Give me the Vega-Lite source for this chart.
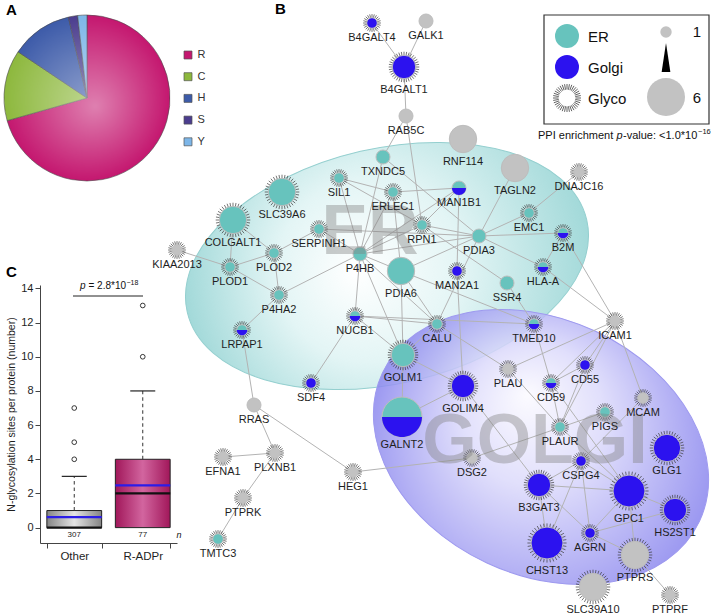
{
"$schema":"https://vega.github.io/schema/vega-lite/v6.json",
"width":715,"height":614,"autosize":{"type":"none"},"padding":0,"background":"#ffffff",
"config":{"view":{"stroke":null},"font":"Liberation Sans"},
"datasets":{
"nodes":[
{"id":"B4GALT4","x":372,"y":23,"t":"Golgi","g":1,"s":1},
{"id":"GALK1","x":426,"y":21,"t":"None","g":0,"s":2},
{"id":"B4GALT1","x":404,"y":67,"t":"Golgi","g":1,"s":3},
{"id":"RAB5C","x":406,"y":116,"t":"None","g":0,"s":2},
{"id":"TXNDC5","x":383,"y":157,"t":"ER","g":0,"s":2},
{"id":"RNF114","x":463,"y":139,"t":"None","g":0,"s":4},
{"id":"TAGLN2","x":515,"y":168,"t":"None","g":0,"s":4},
{"id":"DNAJC16","x":579,"y":172,"t":"None","g":1,"s":1},
{"id":"EMC1","x":529,"y":213,"t":"ER","g":1,"s":1},
{"id":"B2M","x":563,"y":233,"t":"Both","g":1,"s":1},
{"id":"HLA-A","x":543,"y":267,"t":"Both","g":1,"s":1},
{"id":"SSR4","x":507,"y":283,"t":"ER","g":0,"s":2},
{"id":"MAN2A1","x":457,"y":271,"t":"Golgi","g":1,"s":1},
{"id":"PDIA3","x":479,"y":236,"t":"ER","g":0,"s":2},
{"id":"MAN1B1","x":459,"y":188,"t":"Both","g":0,"s":2},
{"id":"RPN1","x":422,"y":225,"t":"ER","g":1,"s":1},
{"id":"ERLEC1","x":393,"y":192,"t":"ER","g":1,"s":1},
{"id":"SIL1","x":339,"y":178,"t":"ER","g":1,"s":1},
{"id":"SERPINH1","x":319,"y":229,"t":"ER","g":1,"s":1},
{"id":"P4HB","x":360,"y":254,"t":"ER","g":0,"s":2},
{"id":"PDIA6","x":401,"y":271,"t":"ER","g":0,"s":4},
{"id":"NUCB1","x":355,"y":316,"t":"Both","g":1,"s":1},
{"id":"CALU","x":437,"y":324,"t":"ER","g":1,"s":1},
{"id":"GOLM1","x":403,"y":355,"t":"ER","g":1,"s":3},
{"id":"COLGALT1","x":233,"y":220,"t":"ER","g":1,"s":4},
{"id":"SLC39A6","x":282,"y":192,"t":"ER","g":1,"s":4},
{"id":"PLOD2","x":274,"y":253,"t":"ER","g":1,"s":1},
{"id":"PLOD1","x":230,"y":267,"t":"ER","g":1,"s":1},
{"id":"KIAA2013","x":177,"y":250,"t":"None","g":1,"s":1},
{"id":"P4HA2","x":279,"y":295,"t":"ER","g":1,"s":1},
{"id":"LRPAP1","x":242,"y":330,"t":"Both","g":1,"s":1},
{"id":"SDF4","x":311,"y":383,"t":"Golgi","g":1,"s":1},
{"id":"RRAS","x":254,"y":405,"t":"None","g":0,"s":2},
{"id":"GALNT2","x":402,"y":417,"t":"Both","g":0,"s":6},
{"id":"EFNA1","x":223,"y":457,"t":"None","g":1,"s":1},
{"id":"PLXNB1","x":275,"y":453,"t":"None","g":1,"s":1},
{"id":"HEG1","x":353,"y":472,"t":"None","g":1,"s":1},
{"id":"PTPRK","x":243,"y":498,"t":"None","g":1,"s":1},
{"id":"TMTC3","x":218,"y":539,"t":"ER","g":1,"s":1},
{"id":"TMED10","x":534,"y":324,"t":"Both","g":1,"s":1},
{"id":"ICAM1","x":615,"y":321,"t":"None","g":1,"s":1},
{"id":"PLAU","x":508,"y":369,"t":"None","g":1,"s":1},
{"id":"CD59","x":551,"y":383,"t":"Both","g":1,"s":1},
{"id":"CD55","x":585,"y":365,"t":"Golgi","g":1,"s":1},
{"id":"GOLIM4","x":463,"y":386,"t":"Golgi","g":1,"s":3},
{"id":"MCAM","x":643,"y":398,"t":"None","g":1,"s":1},
{"id":"PIGS","x":605,"y":412,"t":"ER","g":1,"s":1},
{"id":"PLAUR","x":560,"y":427,"t":"ER","g":1,"s":1},
{"id":"GLG1","x":667,"y":448,"t":"Golgi","g":1,"s":4},
{"id":"DSG2","x":472,"y":458,"t":"None","g":1,"s":1},
{"id":"CSPG4","x":581,"y":461,"t":"Golgi","g":1,"s":1},
{"id":"B3GAT3","x":539,"y":485,"t":"Golgi","g":1,"s":3},
{"id":"GPC1","x":629,"y":491,"t":"Golgi","g":1,"s":5},
{"id":"HS2ST1","x":675,"y":510,"t":"Golgi","g":1,"s":3},
{"id":"AGRN","x":590,"y":533,"t":"Golgi","g":1,"s":1},
{"id":"CHST13","x":547,"y":543,"t":"Golgi","g":1,"s":5},
{"id":"PTPRS","x":635,"y":555,"t":"None","g":1,"s":4},
{"id":"SLC39A10","x":593,"y":587,"t":"None","g":1,"s":4},
{"id":"PTPRF","x":670,"y":595,"t":"None","g":1,"s":1}
],
"edges":[
{"a":"B4GALT4","b":"B4GALT1"},{"a":"GALK1","b":"B4GALT1"},{"a":"B4GALT1","b":"RAB5C"},{"a":"RAB5C","b":"TXNDC5"},{"a":"RAB5C","b":"RPN1"},
{"a":"TXNDC5","b":"P4HB"},{"a":"TXNDC5","b":"PDIA3"},{"a":"SIL1","b":"P4HB"},{"a":"SIL1","b":"ERLEC1"},{"a":"SIL1","b":"RPN1"},
{"a":"ERLEC1","b":"MAN1B1"},{"a":"ERLEC1","b":"P4HB"},{"a":"ERLEC1","b":"PDIA6"},{"a":"MAN1B1","b":"P4HB"},{"a":"MAN1B1","b":"RPN1"},
{"a":"MAN1B1","b":"MAN2A1"},{"a":"RPN1","b":"P4HB"},{"a":"RPN1","b":"PDIA3"},{"a":"RPN1","b":"SSR4"},{"a":"SERPINH1","b":"P4HB"},
{"a":"SERPINH1","b":"PDIA3"},{"a":"SERPINH1","b":"PLOD2"},{"a":"COLGALT1","b":"PLOD1"},{"a":"COLGALT1","b":"PLOD2"},{"a":"KIAA2013","b":"PLOD1"},
{"a":"PLOD1","b":"PLOD2"},{"a":"PLOD1","b":"P4HA2"},{"a":"PLOD2","b":"P4HA2"},{"a":"P4HA2","b":"P4HB"},{"a":"P4HA2","b":"LRPAP1"},
{"a":"LRPAP1","b":"RRAS"},{"a":"P4HB","b":"PDIA6"},{"a":"P4HB","b":"PDIA3"},{"a":"P4HB","b":"NUCB1"},{"a":"P4HB","b":"GOLM1"},
{"a":"P4HB","b":"CALU"},{"a":"PDIA6","b":"PDIA3"},{"a":"PDIA6","b":"GOLM1"},{"a":"PDIA6","b":"CALU"},{"a":"PDIA6","b":"TMED10"},
{"a":"PDIA3","b":"TAGLN2"},{"a":"PDIA3","b":"B2M"},{"a":"PDIA3","b":"HLA-A"},{"a":"PDIA3","b":"CALU"},{"a":"PDIA3","b":"EMC1"},
{"a":"EMC1","b":"DNAJC16"},{"a":"B2M","b":"HLA-A"},{"a":"B2M","b":"ICAM1"},{"a":"HLA-A","b":"ICAM1"},{"a":"SSR4","b":"TMED10"},
{"a":"MAN2A1","b":"GOLIM4"},{"a":"NUCB1","b":"SDF4"},{"a":"NUCB1","b":"CALU"},{"a":"NUCB1","b":"GOLM1"},{"a":"NUCB1","b":"TMED10"},
{"a":"CALU","b":"GOLM1"},{"a":"CALU","b":"PLAU"},{"a":"GOLM1","b":"GALNT2"},{"a":"GOLM1","b":"GOLIM4"},{"a":"GALNT2","b":"GOLIM4"},
{"a":"GOLIM4","b":"B3GAT3"},{"a":"TMED10","b":"CD59"},{"a":"ICAM1","b":"PLAU"},{"a":"ICAM1","b":"CD59"},{"a":"ICAM1","b":"CD55"},
{"a":"ICAM1","b":"PLAUR"},{"a":"ICAM1","b":"MCAM"},{"a":"PLAU","b":"PLAUR"},{"a":"CD59","b":"CD55"},{"a":"CD59","b":"PLAUR"},
{"a":"CD59","b":"GPC1"},{"a":"CD55","b":"PLAUR"},{"a":"PIGS","b":"DSG2"},{"a":"DSG2","b":"HEG1"},{"a":"HEG1","b":"RRAS"},
{"a":"RRAS","b":"PLXNB1"},{"a":"EFNA1","b":"PLXNB1"},{"a":"PLXNB1","b":"PTPRK"},{"a":"PTPRK","b":"TMTC3"},{"a":"MCAM","b":"CSPG4"},
{"a":"PLAUR","b":"GPC1"},{"a":"CSPG4","b":"B3GAT3"},{"a":"CSPG4","b":"GPC1"},{"a":"CSPG4","b":"AGRN"},{"a":"CSPG4","b":"CHST13"},
{"a":"B3GAT3","b":"GPC1"},{"a":"B3GAT3","b":"CHST13"},{"a":"B3GAT3","b":"AGRN"},{"a":"GPC1","b":"AGRN"},{"a":"GPC1","b":"HS2ST1"},
{"a":"GPC1","b":"PTPRS"},{"a":"HS2ST1","b":"AGRN"},{"a":"AGRN","b":"PTPRS"},{"a":"PTPRS","b":"PTPRF"}
],
"pie":[{"site":"R","pct":70.6,"k":1},{"site":"C","pct":13.8,"k":2},{"site":"H","pct":12.0,"k":3},{"site":"S","pct":1.8,"k":4},{"site":"Y","pct":1.8,"k":5}],
"box":[{"group":"Other","q1":0,"median":0,"q3":1,"mean":0.62,"upper":3,"n":"307"},{"group":"R-ADPr","q1":0,"median":2,"q3":4,"mean":2.47,"upper":8,"n":"77"}],
"outliers":[{"group":"Other","value":4},{"group":"Other","value":5},{"group":"Other","value":7},{"group":"R-ADPr","value":10},{"group":"R-ADPr","value":13}]
},
"layer":[
{
"resolve":{"scale":{"size":"independent","shape":"independent"}},
"layer":[
{"data":{"values":[{}]},"mark":{"type":"point","shape":"M-1,0A1,0.574,0,1,0,1,0A1,0.574,0,1,0,-1,0Z","size":168100,"angle":-13,"filled":true,"opacity":1,"fill":{"gradient":"radial","x1":0.42,"y1":0.5,"r1":0,"x2":0.5,"y2":0.5,"r2":0.5,"stops":[{"offset":0,"color":"#ffffff"},{"offset":0.45,"color":"#e3f5f5"},{"offset":1,"color":"#a2d9d9"}]},"stroke":"#94cfcf","strokeWidth":1},
 "encoding":{"x":{"datum":387,"type":"quantitative","scale":{"domain":[0,715],"nice":false,"zero":false},"axis":null},"y":{"datum":266,"type":"quantitative","scale":{"domain":[0,614],"reverse":true,"nice":false,"zero":false},"axis":null}}},
{"data":{"values":[{}]},"mark":{"type":"point","shape":"M-1,0A1,0.731,0,1,0,1,0A1,0.731,0,1,0,-1,0Z","size":122500,"angle":25,"filled":true,"opacity":1,"fillOpacity":0.85,"fill":{"gradient":"radial","x1":0.4,"y1":0.38,"r1":0,"x2":0.5,"y2":0.5,"r2":0.5,"stops":[{"offset":0,"color":"#fbfaff"},{"offset":0.4,"color":"#dcdafb"},{"offset":1,"color":"#8a86ee"}]},"stroke":"#9e9aef","strokeWidth":1},
 "encoding":{"x":{"datum":541,"type":"quantitative","scale":{"domain":[0,715],"nice":false,"zero":false},"axis":null},"y":{"datum":447,"type":"quantitative","scale":{"domain":[0,614],"reverse":true,"nice":false,"zero":false},"axis":null}}},
{"data":{"name":"edges"},
 "transform":[{"lookup":"a","from":{"data":{"name":"nodes"},"key":"id","fields":["x","y"]},"as":["ax","ay"]},{"lookup":"b","from":{"data":{"name":"nodes"},"key":"id","fields":["x","y"]},"as":["bx","by"]}],
 "mark":{"type":"rule","stroke":"#b3b3b3","strokeWidth":1},
 "encoding":{"x":{"field":"ax","type":"quantitative","scale":{"domain":[0,715],"nice":false,"zero":false},"axis":null},"y":{"field":"ay","type":"quantitative","scale":{"domain":[0,614],"reverse":true,"nice":false,"zero":false},"axis":null},"x2":{"field":"bx"},"y2":{"field":"by"}}},
{"data":{"name":"nodes"},"transform":[{"filter":"datum.g == 1"}],
 "mark":{"type":"point","filled":false,"opacity":1,"stroke":"#3a3a3a","strokeWidth":0.7},
 "encoding":{"x":{"field":"x","type":"quantitative","scale":{"domain":[0,715],"nice":false,"zero":false},"axis":null},"y":{"field":"y","type":"quantitative","scale":{"domain":[0,614],"reverse":true,"nice":false,"zero":false},"axis":null},
  "size":{"field":"s","type":"quantitative","scale":{"domain":[1,2,3,4,5,6],"range":[317,449,936,1197,1537,2228],"zero":false,"nice":false},"legend":null},
  "shape":{"field":"s","type":"nominal","scale":{"domain":[1,2,3,4,5,6],"range":[
"M0.6,0L1,0M0.58,0.155L0.966,0.259M0.52,0.3L0.866,0.5M0.424,0.424L0.707,0.707M0.3,0.52L0.5,0.866M0.155,0.58L0.259,0.966M0,0.6L0,1M-0.155,0.58L-0.259,0.966M-0.3,0.52L-0.5,0.866M-0.424,0.424L-0.707,0.707M-0.52,0.3L-0.866,0.5M-0.58,0.155L-0.966,0.259M-0.6,0L-1,0M-0.58,-0.155L-0.966,-0.259M-0.52,-0.3L-0.866,-0.5M-0.424,-0.424L-0.707,-0.707M-0.3,-0.52L-0.5,-0.866M-0.155,-0.58L-0.259,-0.966M0,-0.6L0,-1M0.155,-0.58L0.259,-0.966M0.3,-0.52L0.5,-0.866M0.424,-0.424L0.707,-0.707M0.52,-0.3L0.866,-0.5M0.58,-0.155L0.966,-0.259",
"M0.6,0L1,0M0.58,0.155L0.966,0.259M0.52,0.3L0.866,0.5M0.424,0.424L0.707,0.707M0.3,0.52L0.5,0.866M0.155,0.58L0.259,0.966M0,0.6L0,1M-0.155,0.58L-0.259,0.966M-0.3,0.52L-0.5,0.866M-0.424,0.424L-0.707,0.707M-0.52,0.3L-0.866,0.5M-0.58,0.155L-0.966,0.259M-0.6,0L-1,0M-0.58,-0.155L-0.966,-0.259M-0.52,-0.3L-0.866,-0.5M-0.424,-0.424L-0.707,-0.707M-0.3,-0.52L-0.5,-0.866M-0.155,-0.58L-0.259,-0.966M0,-0.6L0,-1M0.155,-0.58L0.259,-0.966M0.3,-0.52L0.5,-0.866M0.424,-0.424L0.707,-0.707M0.52,-0.3L0.866,-0.5M0.58,-0.155L0.966,-0.259",
"M0.6,0L1,0M0.591,0.104L0.985,0.174M0.564,0.205L0.94,0.342M0.52,0.3L0.866,0.5M0.46,0.386L0.766,0.643M0.386,0.46L0.643,0.766M0.3,0.52L0.5,0.866M0.205,0.564L0.342,0.94M0.104,0.591L0.174,0.985M0,0.6L0,1M-0.104,0.591L-0.174,0.985M-0.205,0.564L-0.342,0.94M-0.3,0.52L-0.5,0.866M-0.386,0.46L-0.643,0.766M-0.46,0.386L-0.766,0.643M-0.52,0.3L-0.866,0.5M-0.564,0.205L-0.94,0.342M-0.591,0.104L-0.985,0.174M-0.6,0L-1,0M-0.591,-0.104L-0.985,-0.174M-0.564,-0.205L-0.94,-0.342M-0.52,-0.3L-0.866,-0.5M-0.46,-0.386L-0.766,-0.643M-0.386,-0.46L-0.643,-0.766M-0.3,-0.52L-0.5,-0.866M-0.205,-0.564L-0.342,-0.94M-0.104,-0.591L-0.174,-0.985M0,-0.6L0,-1M0.104,-0.591L0.174,-0.985M0.205,-0.564L0.342,-0.94M0.3,-0.52L0.5,-0.866M0.386,-0.46L0.643,-0.766M0.46,-0.386L0.766,-0.643M0.52,-0.3L0.866,-0.5M0.564,-0.205L0.94,-0.342M0.591,-0.104L0.985,-0.174",
"M0.6,0L1,0M0.591,0.104L0.985,0.174M0.564,0.205L0.94,0.342M0.52,0.3L0.866,0.5M0.46,0.386L0.766,0.643M0.386,0.46L0.643,0.766M0.3,0.52L0.5,0.866M0.205,0.564L0.342,0.94M0.104,0.591L0.174,0.985M0,0.6L0,1M-0.104,0.591L-0.174,0.985M-0.205,0.564L-0.342,0.94M-0.3,0.52L-0.5,0.866M-0.386,0.46L-0.643,0.766M-0.46,0.386L-0.766,0.643M-0.52,0.3L-0.866,0.5M-0.564,0.205L-0.94,0.342M-0.591,0.104L-0.985,0.174M-0.6,0L-1,0M-0.591,-0.104L-0.985,-0.174M-0.564,-0.205L-0.94,-0.342M-0.52,-0.3L-0.866,-0.5M-0.46,-0.386L-0.766,-0.643M-0.386,-0.46L-0.643,-0.766M-0.3,-0.52L-0.5,-0.866M-0.205,-0.564L-0.342,-0.94M-0.104,-0.591L-0.174,-0.985M0,-0.6L0,-1M0.104,-0.591L0.174,-0.985M0.205,-0.564L0.342,-0.94M0.3,-0.52L0.5,-0.866M0.386,-0.46L0.643,-0.766M0.46,-0.386L0.766,-0.643M0.52,-0.3L0.866,-0.5M0.564,-0.205L0.94,-0.342M0.591,-0.104L0.985,-0.174",
"M0.6,0L1,0M0.591,0.104L0.985,0.174M0.564,0.205L0.94,0.342M0.52,0.3L0.866,0.5M0.46,0.386L0.766,0.643M0.386,0.46L0.643,0.766M0.3,0.52L0.5,0.866M0.205,0.564L0.342,0.94M0.104,0.591L0.174,0.985M0,0.6L0,1M-0.104,0.591L-0.174,0.985M-0.205,0.564L-0.342,0.94M-0.3,0.52L-0.5,0.866M-0.386,0.46L-0.643,0.766M-0.46,0.386L-0.766,0.643M-0.52,0.3L-0.866,0.5M-0.564,0.205L-0.94,0.342M-0.591,0.104L-0.985,0.174M-0.6,0L-1,0M-0.591,-0.104L-0.985,-0.174M-0.564,-0.205L-0.94,-0.342M-0.52,-0.3L-0.866,-0.5M-0.46,-0.386L-0.766,-0.643M-0.386,-0.46L-0.643,-0.766M-0.3,-0.52L-0.5,-0.866M-0.205,-0.564L-0.342,-0.94M-0.104,-0.591L-0.174,-0.985M0,-0.6L0,-1M0.104,-0.591L0.174,-0.985M0.205,-0.564L0.342,-0.94M0.3,-0.52L0.5,-0.866M0.386,-0.46L0.643,-0.766M0.46,-0.386L0.766,-0.643M0.52,-0.3L0.866,-0.5M0.564,-0.205L0.94,-0.342M0.591,-0.104L0.985,-0.174",
"M0.6,0L1,0M0.591,0.104L0.985,0.174M0.564,0.205L0.94,0.342M0.52,0.3L0.866,0.5M0.46,0.386L0.766,0.643M0.386,0.46L0.643,0.766M0.3,0.52L0.5,0.866M0.205,0.564L0.342,0.94M0.104,0.591L0.174,0.985M0,0.6L0,1M-0.104,0.591L-0.174,0.985M-0.205,0.564L-0.342,0.94M-0.3,0.52L-0.5,0.866M-0.386,0.46L-0.643,0.766M-0.46,0.386L-0.766,0.643M-0.52,0.3L-0.866,0.5M-0.564,0.205L-0.94,0.342M-0.591,0.104L-0.985,0.174M-0.6,0L-1,0M-0.591,-0.104L-0.985,-0.174M-0.564,-0.205L-0.94,-0.342M-0.52,-0.3L-0.866,-0.5M-0.46,-0.386L-0.766,-0.643M-0.386,-0.46L-0.643,-0.766M-0.3,-0.52L-0.5,-0.866M-0.205,-0.564L-0.342,-0.94M-0.104,-0.591L-0.174,-0.985M0,-0.6L0,-1M0.104,-0.591L0.174,-0.985M0.205,-0.564L0.342,-0.94M0.3,-0.52L0.5,-0.866M0.386,-0.46L0.643,-0.766M0.46,-0.386L0.766,-0.643M0.52,-0.3L0.866,-0.5M0.564,-0.205L0.94,-0.342M0.591,-0.104L0.985,-0.174"
]},"legend":null}}},
{"data":{"name":"nodes"},
 "mark":{"type":"point","shape":"circle","filled":true,"opacity":1,"stroke":"#bdbdbd","strokeWidth":1},
 "encoding":{"x":{"field":"x","type":"quantitative","scale":{"domain":[0,715],"nice":false,"zero":false},"axis":null},"y":{"field":"y","type":"quantitative","scale":{"domain":[0,614],"reverse":true,"nice":false,"zero":false},"axis":null},
  "size":{"field":"s","type":"quantitative","scale":{"domain":[1,2,3,4,5,6],"range":[112,196,548,751,1024,1600],"zero":false,"nice":false},"legend":null},
  "fill":{"field":"t","type":"nominal","scale":{"domain":["ER","Golgi","Both","None"],"range":["#67c3bd","#2c12ef","#67c3bd","#c2c2c2"]},"legend":null}}},
{"data":{"name":"nodes"},"transform":[{"filter":"datum.t == 'Both'"}],
 "mark":{"type":"point","shape":"M-1,0A1,1,0,0,0,1,0Z","filled":true,"opacity":1,"fill":"#2c12ef","strokeWidth":0},
 "encoding":{"x":{"field":"x","type":"quantitative","scale":{"domain":[0,715],"nice":false,"zero":false},"axis":null},"y":{"field":"y","type":"quantitative","scale":{"domain":[0,614],"reverse":true,"nice":false,"zero":false},"axis":null},
  "size":{"field":"s","type":"quantitative","scale":{"domain":[1,2,3,4,5,6],"range":[112,196,548,751,1024,1600],"zero":false,"nice":false},"legend":null}}},
{"data":{"values":[{}]},"mark":{"type":"text","text":"ER","fontSize":70,"fontWeight":"bold","fill":"#808080","opacity":0.4,"align":"center","baseline":"middle"},
 "encoding":{"x":{"datum":370,"type":"quantitative","scale":{"domain":[0,715],"nice":false,"zero":false},"axis":null},"y":{"datum":233,"type":"quantitative","scale":{"domain":[0,614],"reverse":true,"nice":false,"zero":false},"axis":null}}},
{"data":{"values":[{}]},"mark":{"type":"text","text":"GOLGI","fontSize":70,"fontWeight":"bold","fill":"#808080","opacity":0.4,"align":"center","baseline":"middle"},
 "encoding":{"x":{"datum":535,"type":"quantitative","scale":{"domain":[0,715],"nice":false,"zero":false},"axis":null},"y":{"datum":442,"type":"quantitative","scale":{"domain":[0,614],"reverse":true,"nice":false,"zero":false},"axis":null}}},
{"data":{"name":"nodes"},"transform":[{"filter":"datum.s <= 2"}],"mark":{"type":"text","fontSize":11,"fill":"#1e1e1e","align":"center","baseline":"middle","dy":14.8},
 "encoding":{"x":{"field":"x","type":"quantitative","scale":{"domain":[0,715],"nice":false,"zero":false},"axis":null},"y":{"field":"y","type":"quantitative","scale":{"domain":[0,614],"reverse":true,"nice":false,"zero":false},"axis":null},"text":{"field":"id"}}},
{"data":{"name":"nodes"},"transform":[{"filter":"datum.s == 3 || datum.s == 4"}],"mark":{"type":"text","fontSize":11,"fill":"#1e1e1e","align":"center","baseline":"middle","dy":22.5},
 "encoding":{"x":{"field":"x","type":"quantitative","scale":{"domain":[0,715],"nice":false,"zero":false},"axis":null},"y":{"field":"y","type":"quantitative","scale":{"domain":[0,614],"reverse":true,"nice":false,"zero":false},"axis":null},"text":{"field":"id"}}},
{"data":{"name":"nodes"},"transform":[{"filter":"datum.s >= 5"}],"mark":{"type":"text","fontSize":11,"fill":"#1e1e1e","align":"center","baseline":"middle","dy":28},
 "encoding":{"x":{"field":"x","type":"quantitative","scale":{"domain":[0,715],"nice":false,"zero":false},"axis":null},"y":{"field":"y","type":"quantitative","scale":{"domain":[0,614],"reverse":true,"nice":false,"zero":false},"axis":null},"text":{"field":"id"}}},
{"data":{"values":[{}]},"mark":{"type":"rect","fill":null,"stroke":"#333333","strokeWidth":1.2},
 "encoding":{"x":{"datum":544,"type":"quantitative","scale":{"domain":[0,715],"nice":false,"zero":false},"axis":null},"x2":{"datum":709},"y":{"datum":15,"type":"quantitative","scale":{"domain":[0,614],"reverse":true,"nice":false,"zero":false},"axis":null},"y2":{"datum":124}}},
{"data":{"values":[{}]},"mark":{"type":"point","shape":"circle","filled":true,"opacity":1,"fill":"#67c3bd","size":576,"strokeWidth":0},
 "encoding":{"x":{"datum":567,"type":"quantitative","scale":{"domain":[0,715],"nice":false,"zero":false},"axis":null},"y":{"datum":36,"type":"quantitative","scale":{"domain":[0,614],"reverse":true,"nice":false,"zero":false},"axis":null}}},
{"data":{"values":[{}]},"mark":{"type":"point","shape":"circle","filled":true,"opacity":1,"fill":"#2c12ef","size":576,"strokeWidth":0},
 "encoding":{"x":{"datum":567,"type":"quantitative","scale":{"domain":[0,715],"nice":false,"zero":false},"axis":null},"y":{"datum":67,"type":"quantitative","scale":{"domain":[0,614],"reverse":true,"nice":false,"zero":false},"axis":null}}},
{"data":{"values":[{}]},"mark":{"type":"point","shape":"M0.6,0L1,0M0.591,0.104L0.985,0.174M0.564,0.205L0.94,0.342M0.52,0.3L0.866,0.5M0.46,0.386L0.766,0.643M0.386,0.46L0.643,0.766M0.3,0.52L0.5,0.866M0.205,0.564L0.342,0.94M0.104,0.591L0.174,0.985M0,0.6L0,1M-0.104,0.591L-0.174,0.985M-0.205,0.564L-0.342,0.94M-0.3,0.52L-0.5,0.866M-0.386,0.46L-0.643,0.766M-0.46,0.386L-0.766,0.643M-0.52,0.3L-0.866,0.5M-0.564,0.205L-0.94,0.342M-0.591,0.104L-0.985,0.174M-0.6,0L-1,0M-0.591,-0.104L-0.985,-0.174M-0.564,-0.205L-0.94,-0.342M-0.52,-0.3L-0.866,-0.5M-0.46,-0.386L-0.766,-0.643M-0.386,-0.46L-0.643,-0.766M-0.3,-0.52L-0.5,-0.866M-0.205,-0.564L-0.342,-0.94M-0.104,-0.591L-0.174,-0.985M0,-0.6L0,-1M0.104,-0.591L0.174,-0.985M0.205,-0.564L0.342,-0.94M0.3,-0.52L0.5,-0.866M0.386,-0.46L0.643,-0.766M0.46,-0.386L0.766,-0.643M0.52,-0.3L0.866,-0.5M0.564,-0.205L0.94,-0.342M0.591,-0.104L0.985,-0.174","filled":false,"opacity":1,"stroke":"#3a3a3a","strokeWidth":0.8,"size":784},
 "encoding":{"x":{"datum":567,"type":"quantitative","scale":{"domain":[0,715],"nice":false,"zero":false},"axis":null},"y":{"datum":98,"type":"quantitative","scale":{"domain":[0,614],"reverse":true,"nice":false,"zero":false},"axis":null}}},
{"data":{"values":[{"label":"ER","yy":37},{"label":"Golgi","yy":68},{"label":"Glyco","yy":99}]},"mark":{"type":"text","fontSize":15,"fill":"#111111","align":"left","baseline":"middle"},
 "encoding":{"x":{"datum":588,"type":"quantitative","scale":{"domain":[0,715],"nice":false,"zero":false},"axis":null},"y":{"field":"yy","type":"quantitative","scale":{"domain":[0,614],"reverse":true,"nice":false,"zero":false},"axis":null},"text":{"field":"label"}}},
{"data":{"values":[{}]},"mark":{"type":"point","shape":"circle","filled":true,"opacity":1,"fill":"#c2c2c2","size":130,"strokeWidth":0},
 "encoding":{"x":{"datum":666,"type":"quantitative","scale":{"domain":[0,715],"nice":false,"zero":false},"axis":null},"y":{"datum":32,"type":"quantitative","scale":{"domain":[0,614],"reverse":true,"nice":false,"zero":false},"axis":null}}},
{"data":{"values":[{}]},"mark":{"type":"point","shape":"circle","filled":true,"opacity":1,"fill":"#c2c2c2","size":1444,"strokeWidth":0},
 "encoding":{"x":{"datum":666,"type":"quantitative","scale":{"domain":[0,715],"nice":false,"zero":false},"axis":null},"y":{"datum":97,"type":"quantitative","scale":{"domain":[0,614],"reverse":true,"nice":false,"zero":false},"axis":null}}},
{"data":{"values":[{}]},"mark":{"type":"point","shape":"M0,-1L0.3,1L-0.3,1Z","filled":true,"opacity":1,"fill":"#000000","size":841,"strokeWidth":0},
 "encoding":{"x":{"datum":666,"type":"quantitative","scale":{"domain":[0,715],"nice":false,"zero":false},"axis":null},"y":{"datum":57.5,"type":"quantitative","scale":{"domain":[0,614],"reverse":true,"nice":false,"zero":false},"axis":null}}},
{"data":{"values":[{"label":"1","yy":32},{"label":"6","yy":98}]},"mark":{"type":"text","fontSize":15,"fill":"#111111","align":"center","baseline":"middle"},
 "encoding":{"x":{"datum":697,"type":"quantitative","scale":{"domain":[0,715],"nice":false,"zero":false},"axis":null},"y":{"field":"yy","type":"quantitative","scale":{"domain":[0,614],"reverse":true,"nice":false,"zero":false},"axis":null},"text":{"field":"label"}}},
{"data":{"values":[{}]},"mark":{"type":"text","text":"PPI enrichment","fontSize":11,"fill":"#111111","align":"left","baseline":"middle"},
 "encoding":{"x":{"datum":538,"type":"quantitative","scale":{"domain":[0,715],"nice":false,"zero":false},"axis":null},"y":{"datum":136,"type":"quantitative","scale":{"domain":[0,614],"reverse":true,"nice":false,"zero":false},"axis":null}}},
{"data":{"values":[{}]},"mark":{"type":"text","text":"p","fontSize":11,"fontStyle":"italic","fill":"#111111","align":"left","baseline":"middle"},
 "encoding":{"x":{"datum":616.5,"type":"quantitative","scale":{"domain":[0,715],"nice":false,"zero":false},"axis":null},"y":{"datum":136,"type":"quantitative","scale":{"domain":[0,614],"reverse":true,"nice":false,"zero":false},"axis":null}}},
{"data":{"values":[{}]},"mark":{"type":"text","text":"-value: <1.0*10","fontSize":11,"fill":"#111111","align":"left","baseline":"middle"},
 "encoding":{"x":{"datum":623,"type":"quantitative","scale":{"domain":[0,715],"nice":false,"zero":false},"axis":null},"y":{"datum":136,"type":"quantitative","scale":{"domain":[0,614],"reverse":true,"nice":false,"zero":false},"axis":null}}},
{"data":{"values":[{}]},"mark":{"type":"text","text":"−16","fontSize":7.5,"fill":"#111111","align":"left","baseline":"middle"},
 "encoding":{"x":{"datum":698,"type":"quantitative","scale":{"domain":[0,715],"nice":false,"zero":false},"axis":null},"y":{"datum":132,"type":"quantitative","scale":{"domain":[0,614],"reverse":true,"nice":false,"zero":false},"axis":null}}},
{"data":{"name":"pie"},"mark":{"type":"arc","outerRadius":83,"stroke":"#4a4a4a","strokeWidth":0.6},
 "encoding":{"theta":{"field":"pct","type":"quantitative","stack":true},"order":{"field":"k","type":"quantitative"},
  "color":{"field":"site","type":"nominal","scale":{"domain":["R","C","H","S","Y"],"range":["#c4176f","#8db83d","#3d5ba9","#4b3d8e","#7db6e8"]},
   "legend":{"title":null,"orient":"none","legendX":182.5,"legendY":49.5,"padding":0,"symbolType":"square","symbolSize":64,"symbolStrokeColor":"#555555","symbolStrokeWidth":0.7,"labelFontSize":11,"labelColor":"#333333","labelOffset":4,"rowPadding":9.7}},
  "x":{"datum":87,"type":"quantitative","scale":{"domain":[0,715],"nice":false,"zero":false},"axis":null},"y":{"datum":98,"type":"quantitative","scale":{"domain":[0,614],"reverse":true,"nice":false,"zero":false},"axis":null}}},
{"data":{"values":[{}]},"mark":{"type":"arc","outerRadius":83,"theta":0,"theta2":6.2832,"strokeWidth":0,"fill":{"gradient":"radial","x1":0.55,"y1":0.55,"r1":0,"x2":0.5,"y2":0.5,"r2":0.5,"stops":[{"offset":0,"color":"rgba(255,255,255,0.45)"},{"offset":1,"color":"rgba(255,255,255,0)"}]}},
 "encoding":{"x":{"datum":87,"type":"quantitative","scale":{"domain":[0,715],"nice":false,"zero":false},"axis":null},"y":{"datum":98,"type":"quantitative","scale":{"domain":[0,614],"reverse":true,"nice":false,"zero":false},"axis":null}}},
{"data":{"values":[{"label":"A","xx":6,"yy":10},{"label":"B","xx":275,"yy":9},{"label":"C","xx":6,"yy":272}]},"mark":{"type":"text","fontSize":15,"fontWeight":"bold","fill":"#000000","align":"left","baseline":"middle"},
 "encoding":{"x":{"field":"xx","type":"quantitative","scale":{"domain":[0,715],"nice":false,"zero":false},"axis":null},"y":{"field":"yy","type":"quantitative","scale":{"domain":[0,614],"reverse":true,"nice":false,"zero":false},"axis":null},"text":{"field":"label"}}},
{"data":{"values":[{}]},"mark":{"type":"rule","stroke":"#222222","strokeWidth":1},
 "encoding":{"x":{"datum":73,"type":"quantitative","scale":{"domain":[0,715],"nice":false,"zero":false},"axis":null},"x2":{"datum":143},"y":{"datum":296,"type":"quantitative","scale":{"domain":[0,614],"reverse":true,"nice":false,"zero":false},"axis":null}}},
{"data":{"values":[{}]},"mark":{"type":"text","text":"p","fontSize":10,"fontStyle":"italic","fill":"#111111","align":"left","baseline":"middle"},
 "encoding":{"x":{"datum":80,"type":"quantitative","scale":{"domain":[0,715],"nice":false,"zero":false},"axis":null},"y":{"datum":286,"type":"quantitative","scale":{"domain":[0,614],"reverse":true,"nice":false,"zero":false},"axis":null}}},
{"data":{"values":[{}]},"mark":{"type":"text","text":"= 2.8*10","fontSize":10,"fill":"#111111","align":"left","baseline":"middle"},
 "encoding":{"x":{"datum":88.5,"type":"quantitative","scale":{"domain":[0,715],"nice":false,"zero":false},"axis":null},"y":{"datum":286,"type":"quantitative","scale":{"domain":[0,614],"reverse":true,"nice":false,"zero":false},"axis":null}}},
{"data":{"values":[{}]},"mark":{"type":"text","text":"−18","fontSize":7,"fill":"#111111","align":"left","baseline":"middle"},
 "encoding":{"x":{"datum":126.5,"type":"quantitative","scale":{"domain":[0,715],"nice":false,"zero":false},"axis":null},"y":{"datum":282.5,"type":"quantitative","scale":{"domain":[0,614],"reverse":true,"nice":false,"zero":false},"axis":null}}},
{"data":{"values":[{}]},"mark":{"type":"text","text":"n","fontSize":9,"fontStyle":"italic","fill":"#111111","align":"center","baseline":"middle"},
 "encoding":{"x":{"datum":179,"type":"quantitative","scale":{"domain":[0,715],"nice":false,"zero":false},"axis":null},"y":{"datum":535,"type":"quantitative","scale":{"domain":[0,614],"reverse":true,"nice":false,"zero":false},"axis":null}}}
]
},
{
"layer":[
{"data":{"name":"box"},"transform":[{"filter":"datum.group == 'Other'"}],
 "mark":{"type":"bar","stroke":"#222222","strokeWidth":1,"fill":{"gradient":"linear","x1":0,"y1":0,"x2":1,"y2":0,"stops":[{"offset":0,"color":"#858585"},{"offset":0.5,"color":"#e4e4e4"},{"offset":1,"color":"#858585"}]}},
 "encoding":{"x":{"field":"group","type":"nominal","scale":{"type":"band","domain":["Other","R-ADPr"],"range":[40,177],"paddingInner":0.2,"paddingOuter":0.1},"axis":{"orient":"bottom","offset":-71,"tickBand":"extent","title":null,"labelAngle":0,"labelFontSize":11.5,"labelColor":"#1e1e1e","tickSize":5,"tickColor":"#444444","domainColor":"#444444","labelPadding":2,"grid":false}},
  "y":{"field":"q1","type":"quantitative","scale":{"domain":[-0.9,14.2],"range":[543,285],"nice":false,"zero":false},"axis":{"orient":"left","offset":-40,"values":[0,2,4,6,8,10,12,14],"title":"N-glycosylation sites per protein (number)","titleFontSize":10.5,"titleFontWeight":"normal","titleColor":"#1e1e1e","titlePadding":4,"labelFontSize":11,"labelColor":"#1e1e1e","tickSize":5,"tickColor":"#444444","domainColor":"#444444","grid":false,"labelPadding":2}},
  "y2":{"field":"q3"}}},
{"data":{"name":"box"},"transform":[{"filter":"datum.group == 'R-ADPr'"}],
 "mark":{"type":"bar","stroke":"#222222","strokeWidth":1,"fill":{"gradient":"linear","x1":0,"y1":0,"x2":1,"y2":0,"stops":[{"offset":0,"color":"#a1175a"},{"offset":0.5,"color":"#d2659f"},{"offset":1,"color":"#a1175a"}]}},
 "encoding":{"x":{"field":"group","type":"nominal","scale":{"type":"band","domain":["Other","R-ADPr"],"range":[40,177],"paddingInner":0.2,"paddingOuter":0.1},"axis":{"orient":"bottom","offset":-71,"tickBand":"extent","title":null,"labelAngle":0,"labelFontSize":11.5,"labelColor":"#1e1e1e","tickSize":5,"tickColor":"#444444","domainColor":"#444444","labelPadding":2,"grid":false}},
  "y":{"field":"q1","type":"quantitative","scale":{"domain":[-0.9,14.2],"range":[543,285],"nice":false,"zero":false},"axis":{"orient":"left","offset":-40,"values":[0,2,4,6,8,10,12,14],"title":"N-glycosylation sites per protein (number)","titleFontSize":10.5,"titleFontWeight":"normal","titleColor":"#1e1e1e","titlePadding":4,"labelFontSize":11,"labelColor":"#1e1e1e","tickSize":5,"tickColor":"#444444","domainColor":"#444444","grid":false,"labelPadding":2}},
  "y2":{"field":"q3"}}},
{"data":{"name":"box"},"mark":{"type":"rule","stroke":"#333333","strokeWidth":1,"strokeDash":[3.5,3]},
 "encoding":{"x":{"field":"group","type":"nominal","scale":{"type":"band","domain":["Other","R-ADPr"],"range":[40,177],"paddingInner":0.2,"paddingOuter":0.1},"axis":{"orient":"bottom","offset":-71,"tickBand":"extent","title":null,"labelAngle":0,"labelFontSize":11.5,"labelColor":"#1e1e1e","tickSize":5,"tickColor":"#444444","domainColor":"#444444","labelPadding":2,"grid":false}},
  "y":{"field":"q3","type":"quantitative","scale":{"domain":[-0.9,14.2],"range":[543,285],"nice":false,"zero":false},"axis":{"orient":"left","offset":-40,"values":[0,2,4,6,8,10,12,14],"title":"N-glycosylation sites per protein (number)","titleFontSize":10.5,"titleFontWeight":"normal","titleColor":"#1e1e1e","titlePadding":4,"labelFontSize":11,"labelColor":"#1e1e1e","tickSize":5,"tickColor":"#444444","domainColor":"#444444","grid":false,"labelPadding":2}},
  "y2":{"field":"upper"}}},
{"data":{"name":"box"},"mark":{"type":"tick","orient":"horizontal","size":25,"thickness":1.2,"color":"#222222","opacity":1},
 "encoding":{"x":{"field":"group","type":"nominal","scale":{"type":"band","domain":["Other","R-ADPr"],"range":[40,177],"paddingInner":0.2,"paddingOuter":0.1},"axis":{"orient":"bottom","offset":-71,"tickBand":"extent","title":null,"labelAngle":0,"labelFontSize":11.5,"labelColor":"#1e1e1e","tickSize":5,"tickColor":"#444444","domainColor":"#444444","labelPadding":2,"grid":false}},
  "y":{"field":"upper","type":"quantitative","scale":{"domain":[-0.9,14.2],"range":[543,285],"nice":false,"zero":false},"axis":{"orient":"left","offset":-40,"values":[0,2,4,6,8,10,12,14],"title":"N-glycosylation sites per protein (number)","titleFontSize":10.5,"titleFontWeight":"normal","titleColor":"#1e1e1e","titlePadding":4,"labelFontSize":11,"labelColor":"#1e1e1e","tickSize":5,"tickColor":"#444444","domainColor":"#444444","grid":false,"labelPadding":2}}}},
{"data":{"name":"box"},"mark":{"type":"tick","orient":"horizontal","size":55,"thickness":2.2,"color":"#111111","opacity":1},
 "encoding":{"x":{"field":"group","type":"nominal","scale":{"type":"band","domain":["Other","R-ADPr"],"range":[40,177],"paddingInner":0.2,"paddingOuter":0.1},"axis":{"orient":"bottom","offset":-71,"tickBand":"extent","title":null,"labelAngle":0,"labelFontSize":11.5,"labelColor":"#1e1e1e","tickSize":5,"tickColor":"#444444","domainColor":"#444444","labelPadding":2,"grid":false}},
  "y":{"field":"median","type":"quantitative","scale":{"domain":[-0.9,14.2],"range":[543,285],"nice":false,"zero":false},"axis":{"orient":"left","offset":-40,"values":[0,2,4,6,8,10,12,14],"title":"N-glycosylation sites per protein (number)","titleFontSize":10.5,"titleFontWeight":"normal","titleColor":"#1e1e1e","titlePadding":4,"labelFontSize":11,"labelColor":"#1e1e1e","tickSize":5,"tickColor":"#444444","domainColor":"#444444","grid":false,"labelPadding":2}}}},
{"data":{"name":"box"},"mark":{"type":"tick","orient":"horizontal","size":55,"thickness":2.2,"color":"#2b1de8","opacity":1},
 "encoding":{"x":{"field":"group","type":"nominal","scale":{"type":"band","domain":["Other","R-ADPr"],"range":[40,177],"paddingInner":0.2,"paddingOuter":0.1},"axis":{"orient":"bottom","offset":-71,"tickBand":"extent","title":null,"labelAngle":0,"labelFontSize":11.5,"labelColor":"#1e1e1e","tickSize":5,"tickColor":"#444444","domainColor":"#444444","labelPadding":2,"grid":false}},
  "y":{"field":"mean","type":"quantitative","scale":{"domain":[-0.9,14.2],"range":[543,285],"nice":false,"zero":false},"axis":{"orient":"left","offset":-40,"values":[0,2,4,6,8,10,12,14],"title":"N-glycosylation sites per protein (number)","titleFontSize":10.5,"titleFontWeight":"normal","titleColor":"#1e1e1e","titlePadding":4,"labelFontSize":11,"labelColor":"#1e1e1e","tickSize":5,"tickColor":"#444444","domainColor":"#444444","grid":false,"labelPadding":2}}}},
{"data":{"name":"outliers"},"mark":{"type":"point","shape":"circle","size":22,"filled":true,"fill":"#ffffff","stroke":"#222222","strokeWidth":0.9,"opacity":1},
 "encoding":{"x":{"field":"group","type":"nominal","scale":{"type":"band","domain":["Other","R-ADPr"],"range":[40,177],"paddingInner":0.2,"paddingOuter":0.1},"axis":{"orient":"bottom","offset":-71,"tickBand":"extent","title":null,"labelAngle":0,"labelFontSize":11.5,"labelColor":"#1e1e1e","tickSize":5,"tickColor":"#444444","domainColor":"#444444","labelPadding":2,"grid":false}},
  "y":{"field":"value","type":"quantitative","scale":{"domain":[-0.9,14.2],"range":[543,285],"nice":false,"zero":false},"axis":{"orient":"left","offset":-40,"values":[0,2,4,6,8,10,12,14],"title":"N-glycosylation sites per protein (number)","titleFontSize":10.5,"titleFontWeight":"normal","titleColor":"#1e1e1e","titlePadding":4,"labelFontSize":11,"labelColor":"#1e1e1e","tickSize":5,"tickColor":"#444444","domainColor":"#444444","grid":false,"labelPadding":2}}}},
{"data":{"name":"box"},"mark":{"type":"text","fontSize":8,"fill":"#222222","align":"center","baseline":"middle"},
 "encoding":{"x":{"field":"group","type":"nominal","scale":{"type":"band","domain":["Other","R-ADPr"],"range":[40,177],"paddingInner":0.2,"paddingOuter":0.1},"axis":{"orient":"bottom","offset":-71,"tickBand":"extent","title":null,"labelAngle":0,"labelFontSize":11.5,"labelColor":"#1e1e1e","tickSize":5,"tickColor":"#444444","domainColor":"#444444","labelPadding":2,"grid":false}},
  "y":{"datum":-0.43,"type":"quantitative","scale":{"domain":[-0.9,14.2],"range":[543,285],"nice":false,"zero":false},"axis":{"orient":"left","offset":-40,"values":[0,2,4,6,8,10,12,14],"title":"N-glycosylation sites per protein (number)","titleFontSize":10.5,"titleFontWeight":"normal","titleColor":"#1e1e1e","titlePadding":4,"labelFontSize":11,"labelColor":"#1e1e1e","tickSize":5,"tickColor":"#444444","domainColor":"#444444","grid":false,"labelPadding":2}},
  "text":{"field":"n"}}}
]
}
],
"resolve":{"scale":{"x":"independent","y":"independent"},"axis":{"x":"independent","y":"independent"}}
}
